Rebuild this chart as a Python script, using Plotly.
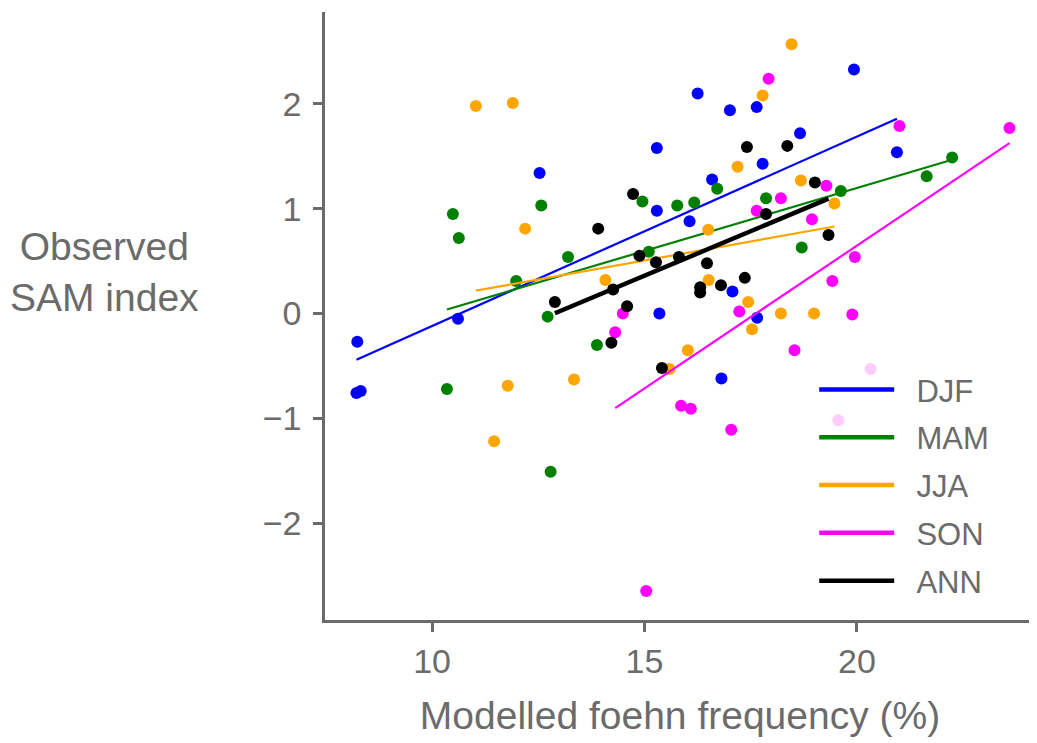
import numpy as np
import plotly.graph_objects as go

# ---- data ----
djf_x = [8.24, 8.22, 8.32, 10.61, 12.53, 15.29, 15.29, 15.35, 16.06, 16.25,
         16.59, 16.81, 17.01, 17.07, 17.64, 17.65, 17.78, 18.66, 19.93, 20.94]
djf_y = [-0.27, -0.76, -0.74, -0.05, 1.34, 1.58, 0.98, 0.00, 0.88, 2.10,
         1.28, -0.62, 1.94, 0.21, 1.97, -0.04, 1.43, 1.72, 2.33, 1.54]

mam_x = [10.35, 10.49, 10.63, 11.98, 12.57, 12.72, 12.79, 13.20, 13.88, 14.95,
         15.10, 15.77, 16.17, 16.71, 17.86, 18.70, 19.62, 21.64, 22.24]
mam_y = [-0.72, 0.95, 0.72, 0.31, 1.03, -0.03, -1.51, 0.54, -0.30, 1.07,
         0.59, 1.03, 1.06, 1.19, 1.10, 0.63, 1.17, 1.31, 1.49]

jja_x = [11.03, 11.46, 11.78, 11.90, 12.19, 13.34, 14.08, 15.59, 16.02, 16.50,
         16.51, 17.19, 17.44, 17.53, 17.78, 18.21, 18.46, 18.68, 18.99, 19.47]
jja_y = [1.98, -1.22, -0.69, 2.01, 0.81, -0.63, 0.32, -0.53, -0.35, 0.80,
         0.32, 1.40, 0.11, -0.15, 2.08, 0.00, 2.57, 1.27, 0.00, 1.05]

son_x = [14.31, 14.49, 15.04, 15.86, 16.09, 17.04, 17.23, 17.64, 17.92, 18.21,
         18.53, 18.94, 19.28, 19.42, 19.56, 19.89, 19.95, 20.32, 21.00, 23.59]
son_y = [-0.18, 0.00, -2.65, -0.88, -0.91, -1.11, 0.02, 0.98, 2.24, 1.10,
         -0.35, 0.90, 1.22, 0.31, -1.02, -0.01, 0.54, -0.53, 1.79, 1.77]

ann_x = [12.89, 13.91, 14.22, 14.26, 14.59, 14.73, 14.88, 15.27, 15.41, 15.81,
         16.31, 16.31, 16.47, 16.80, 17.36, 17.41, 17.86, 18.36, 19.01, 19.33]
ann_y = [0.11, 0.81, -0.28, 0.23, 0.07, 1.14, 0.55, 0.49, -0.52, 0.54,
         0.25, 0.20, 0.48, 0.27, 0.34, 1.59, 0.95, 1.60, 1.25, 0.75]

series_names = ["DJF", "MAM", "JJA", "SON", "ANN"]
series_x = [djf_x, mam_x, jja_x, son_x, ann_x]
series_y = [djf_y, mam_y, jja_y, son_y, ann_y]
series_colors = ["#0000ff", "#008000", "#ffa500", "#ff00ff", "#000000"]
series_lw = [2.2, 2.2, 2.2, 2.2, 4.5]

x_ticks = [10, 15, 20]
y_ticks = [-2, -1, 0, 1, 2]

GREY = "#6b6b6b"
FONT = "Liberation Sans, Arial, sans-serif"
NBSP = "\u00a0"

fig = go.Figure()
for name, xs, ys, col, lw in zip(series_names, series_x, series_y, series_colors, series_lw):
    fig.add_trace(go.Scatter(x=xs, y=ys, mode="markers",
                             marker=dict(color=col, size=12, line=dict(width=0)),
                             showlegend=False, hoverinfo="x+y"))
    slope, icpt = np.polyfit(np.array(xs), np.array(ys), 1)
    xl = np.array([min(xs), max(xs)])
    fig.add_trace(go.Scatter(x=xl, y=slope * xl + icpt, mode="lines",
                             line=dict(color=col, width=lw),
                             showlegend=False, hoverinfo="skip"))

# legend entries (line keys)
for name, col in zip(series_names, series_colors):
    fig.add_trace(go.Scatter(x=[None], y=[None], mode="lines", name=NBSP * 2 + name,
                             legendgroup=name,
                             line=dict(color=col, width=4.5)))

axis_common = dict(showgrid=False, zeroline=False, showline=True, linewidth=2.5,
                   linecolor=GREY, ticks="outside", ticklen=9, tickwidth=2.5,
                   tickcolor=GREY, tickfont=dict(size=34, color=GREY, family=FONT))

fig.update_layout(
    width=1029, height=735,
    margin=dict(l=317, r=2, t=4, b=123),
    paper_bgcolor="white", plot_bgcolor="white",
    font=dict(family=FONT, color=GREY),
    xaxis=dict(range=[7.48, 24.19], tickvals=x_ticks,
               title=dict(text="Modelled foehn frequency (%)",
                          font=dict(size=39, color=GREY, family=FONT), standoff=24),
               **axis_common),
    yaxis=dict(range=[-2.926, 2.878], tickvals=y_ticks, ticklabelstandoff=5,
               **axis_common),
    legend=dict(x=0.689, y=0.423, xanchor="left", yanchor="top",
                bgcolor="rgba(255,255,255,0.8)", borderwidth=0,
                tracegroupgap=4.5,
                font=dict(size=31, color=GREY, family=FONT), itemwidth=75),
    annotations=[dict(text="Observed<br>SAM index", xref="paper", yref="paper",
                      x=-0.31, y=0.572, xanchor="center", yanchor="middle",
                      showarrow=False, align="center",
                      font=dict(size=39, color=GREY, family=FONT))],
)

fig.write_html("out.html")
